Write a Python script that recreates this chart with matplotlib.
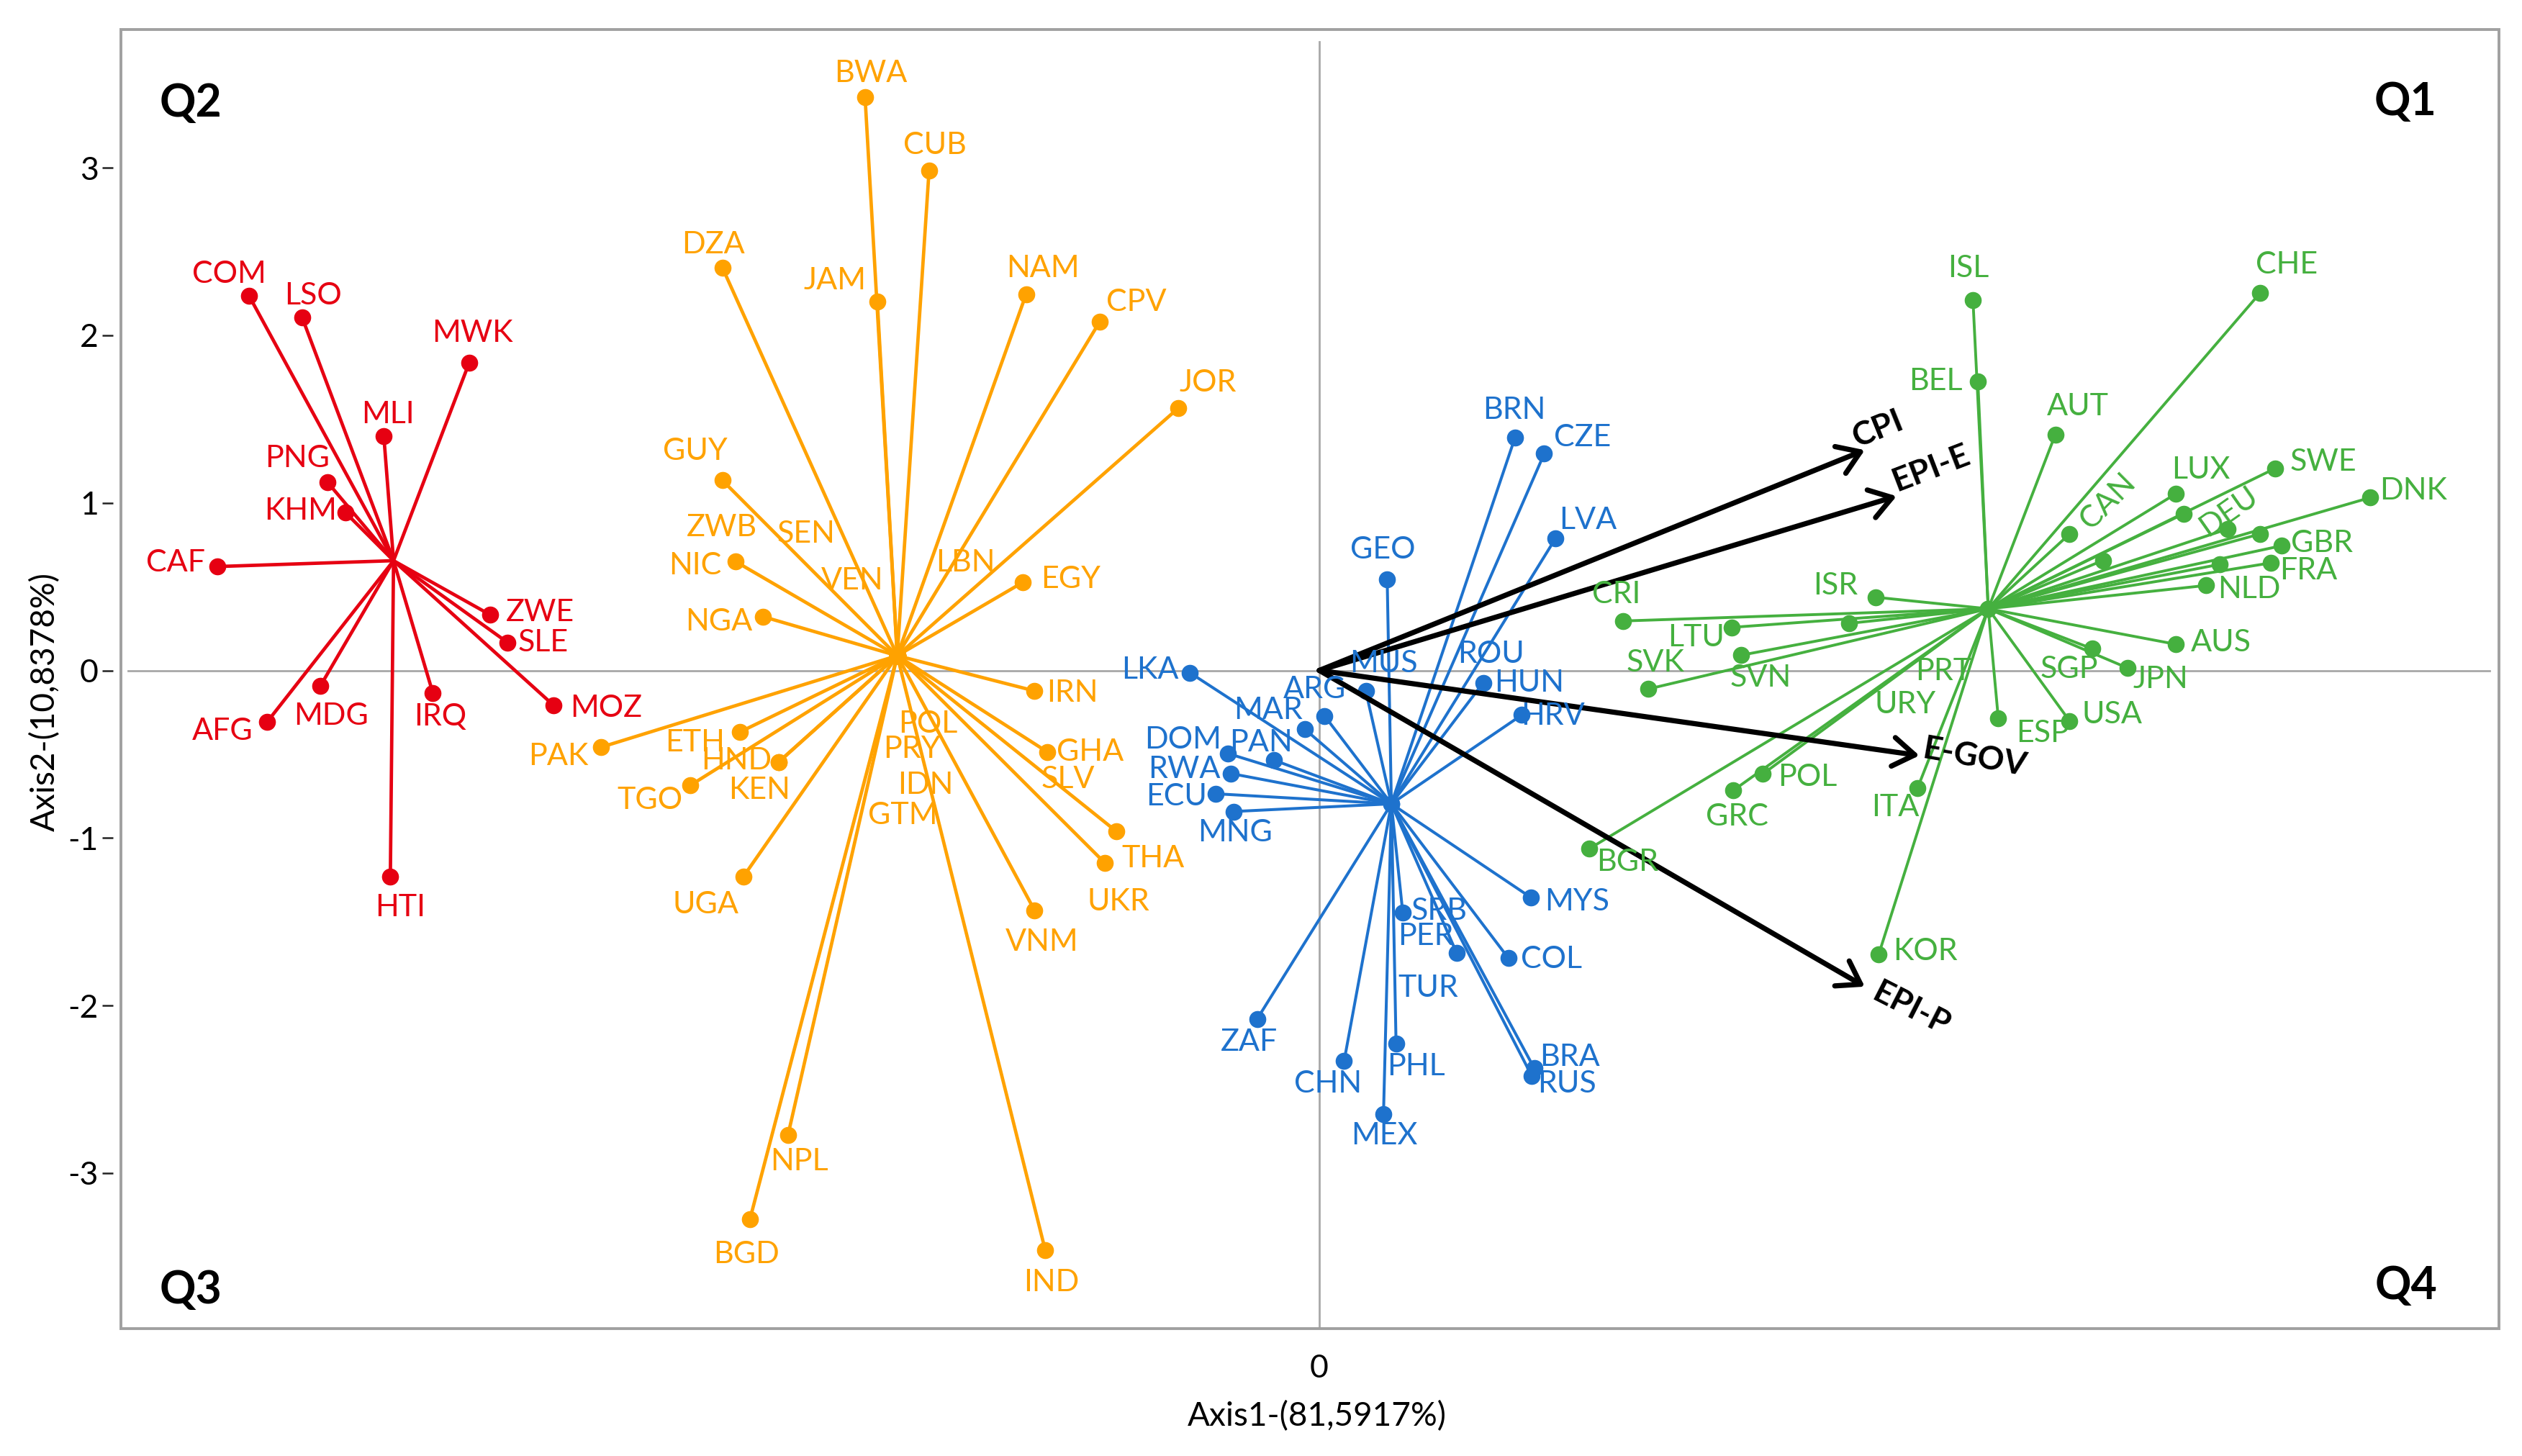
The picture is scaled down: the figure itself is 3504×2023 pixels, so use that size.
import matplotlib
matplotlib.use('Agg')
import matplotlib.pyplot as plt
from matplotlib.patches import Rectangle

plt.rcParams['font.family'] = ['Lato', 'DejaVu Sans']
plt.rcParams['axes.unicode_minus'] = False

# ---------------- data ----------------
red_center = (-5.525, 0.655)
red_names = ['COM', 'LSO', 'MWK', 'MLI', 'PNG', 'KHM', 'CAF', 'ZWE', 'SLE', 'MOZ', 'IRQ', 'MDG', 'AFG', 'HTI']
red_x = [-6.388, -6.071, -5.074, -5.583, -5.918, -5.813, -6.576, -4.950, -4.845, -4.570, -5.290, -5.962, -6.279, -5.544]
red_y = [2.237, 2.108, 1.835, 1.398, 1.122, 0.943, 0.620, 0.333, 0.167, -0.208, -0.136, -0.093, -0.307, -1.229]

orange_center = (-2.519, 0.088)
orange_names = ['BWA', 'CUB', 'DZA', 'JAM', 'NAM', 'CPV', 'JOR', 'GUY', 'ZWB', 'SEN', 'NIC', 'VEN', 'LBN',
                'NGA', 'EGY', 'IRN', 'PAK', 'ETH', 'HND', 'KEN', 'POL', 'PRY', 'IDN', 'GTM', 'SLV',
                'GHA', 'TGO', 'UGA', 'THA', 'UKR', 'VNM', 'NPL', 'BGD', 'IND']
orange_x = [-2.711, -2.329, -3.563, -2.638, -1.750, -1.311, -0.841, -3.563, -2.519, -2.519, -3.484, -2.519, -2.519,
            -3.320, -1.769, -1.700, -4.286, -3.459, -3.226, -3.226, -2.519, -2.519, -2.519, -2.519, -2.519,
            -1.624, -3.754, -3.436, -1.212, -1.280, -1.700, -3.171, -3.398, -1.636]
orange_y = [3.421, 2.985, 2.405, 2.203, 2.245, 2.080, 1.566, 1.135, 0.088, 0.088, 0.650, 0.088, 0.088,
            0.321, 0.526, -0.122, -0.458, -0.368, -0.546, -0.546, 0.088, 0.088, 0.088, 0.088, 0.088,
            -0.486, -0.686, -1.229, -0.960, -1.149, -1.431, -2.773, -3.275, -3.459]

blue_center = (0.430, -0.796)
blue_names = ['BRN', 'CZE', 'LVA', 'GEO', 'ROU', 'LKA', 'MUS', 'ARG', 'HUN', 'HRV', 'MAR', 'DOM', 'PAN',
              'RWA', 'ECU', 'MNG', 'SRB', 'MYS', 'PER', 'COL', 'TUR', 'ZAF', 'PHL', 'CHN', 'BRA', 'RUS', 'MEX']
blue_x = [1.168, 1.342, 1.409, 0.405, 0.430, -0.772, 0.277, 0.031, 0.978, 1.208, -0.085, -0.545, -0.271,
          -0.530, -0.618, -0.513, 0.498, 1.264, 0.819, 1.129, 0.430, -0.371, 0.458, 0.148, 1.283, 1.269, 0.383]
blue_y = [1.390, 1.293, 0.787, 0.545, -0.796, -0.014, -0.122, -0.271, -0.074, -0.266, -0.352, -0.496, -0.535,
          -0.615, -0.736, -0.842, -1.446, -1.356, -1.685, -1.718, -0.796, -2.080, -2.228, -2.331, -2.375, -2.422, -2.647]

green_center = (3.992, 0.368)
green_names = ['ISL', 'CHE', 'BEL', 'AUT', 'CAN', 'LUX', '', 'DEU', 'SWE', 'DNK', '', 'GBR', '', 'FRA',
               'NLD', '', 'ISR', 'CRI', 'LTU', '', 'SVN', 'SVK', 'PRT', 'URY', 'SGP', 'JPN', 'AUS',
               'ESP', 'USA', 'POL', 'GRC', 'ITA', 'KOR', 'BGR']
green_x = [3.901, 5.613, 3.930, 4.392, 4.477, 5.113, 5.157, 5.420, 5.705, 6.270, 5.613, 5.742, 5.373, 5.680,
           5.291, 4.677, 3.319, 1.811, 2.461, 3.161, 2.517, 1.962, 3.992, 3.992, 4.614, 4.825, 5.113,
           4.052, 4.477, 2.647, 2.469, 3.570, 3.338, 1.611]
green_y = [2.208, 2.251, 1.724, 1.407, 0.814, 1.055, 0.934, 0.844, 1.206, 1.031, 0.814, 0.744, 0.633, 0.642,
           0.507, 0.657, 0.437, 0.295, 0.257, 0.281, 0.091, -0.111, 0.368, 0.368, 0.129, 0.014, 0.156,
           -0.286, -0.301, -0.618, -0.717, -0.702, -1.696, -1.064]

arrow_names = ['CPI', 'EPI-E', 'E-GOV', 'EPI-P']
arrow_x = [3.255, 3.445, 3.581, 3.255]
arrow_y = [1.315, 1.040, -0.508, -1.887]

y_ticks = [-3, -2, -1, 0, 1, 2, 3]
x_ticks = [0]

# ---------------- label layout (offsets, reference units; +dy = down) ----------------
label_offsets = {
    'red': {'COM': (-12.3, -13.4), 'LSO': (6.9, -13.4), 'MWK': (2, -18.5), 'MLI': (2.6, -13.4),
            'PNG': (-18.9, -14.9), 'KHM': (-27.8, -0.9), 'CAF': (-25.8, -2.1), 'ZWE': (31.2, -1.2),
            'SLE': (21.9, 0), 'MOZ': (32.5, 2), 'IRQ': (4.4, 14.8), 'MDG': (6.6, 18.4),
            'AFG': (-27.6, 6), 'HTI': (6.3, 19.4)},
    'orange': {'BWA': (3.3, -14.8), 'CUB': (3.8, -15.4), 'DZA': (-5.6, -14.0), 'JAM': (-26.0, -12.8),
               'NAM': (10.2, -15.8), 'CPV': (22.8, -12), 'JOR': (18.1, -15.5), 'GUY': (-16.6, -17.9),
               'ZWB': (-108.6, -79.1), 'SEN': (-56.2, -75.3), 'NIC': (-24.8, 2.6), 'VEN': (-27.6, -46.4),
               'LBN': (42.2, -57.4), 'NGA': (-27.1, 3.3), 'EGY': (29.6, -1.8), 'IRN': (23.6, 1.4),
               'PAK': (-26.4, 5.7), 'ETH': (-27.5, 6.6), 'HND': (-26.1, -0.6), 'KEN': (-11.9, 17.3),
               'POL': (19.1, 42.4), 'PRY': (9.1, 58.0), 'IDN': (17.6, 80.2), 'GTM': (3.4, 98.6),
               'SLV': (105.6, 76.5), 'GHA': (26.5, 0), 'TGO': (-24.8, 9.1), 'UGA': (-23.6, 17.6),
               'THA': (22.7, 16.8), 'UKR': (8.4, 24.2), 'VNM': (4.6, 19.8), 'NPL': (7.1, 16.2),
               'BGD': (-2, 21.8), 'IND': (3.7, 19.9)},
    'blue': {'BRN': (-0.4, -16.7), 'CZE': (23.6, -9.8), 'LVA': (20, -11.1), 'GEO': (-2.5, -17.9),
             'ROU': (61.4, -92.7), 'LKA': (-24.8, -1.8), 'MUS': (11.3, -16.8), 'ARG': (-6.3, -16.4),
             'HUN': (28.4, 0), 'HRV': (19.3, 0.9), 'MAR': (-22.7, -11.9), 'DOM': (-27.9, -8.4),
             'PAN': (-7.9, -10.9), 'RWA': (-28.4, -2.4), 'ECU': (-24.3, 2.0), 'MNG': (1.2, 12.9),
             'SRB': (22.3, -0.8), 'MYS': (28.4, 2.6), 'PER': (-18.9, -10.2), 'COL': (26.4, 0.8),
             'TUR': (22.8, 114.2), 'ZAF': (-4.9, 14.4), 'PHL': (12.5, 14.1), 'CHN': (-10, 14),
             'BRA': (22, -6.8), 'RUS': (21.8, 4.6), 'MEX': (0.4, 13.3)},
    'green': {'ISL': (-2.7, -20), 'CHE': (16.4, -17.5), 'BEL': (-26.1, 0), 'AUT': (13.8, -17.2),
              'CAN': (23.8, -20.3), 'LUX': (15.4, -14.6), 'DEU': (0.8, -10.9), 'SWE': (29.5, -4.1),
              'DNK': (26.9, -4), 'GBR': (24.9, -1.6), 'FRA': (22.9, 5), 'NLD': (26.8, 2.5),
              'ISR': (-24.9, -7.2), 'CRI': (-3.9, -16.3), 'LTU': (-22.2, 6.3), 'SVN': (12.2, 14.1),
              'SVK': (4.6, -16.2), 'PRT': (-27.6, 39), 'URY': (-51.3, 59.3), 'SGP': (-14.2, 12.8),
              'JPN': (20.2, 7.1), 'AUS': (28, -1), 'ESP': (27.6, 9.4), 'USA': (26.5, -3.7),
              'POL': (27.6, 2.2), 'GRC': (2.7, 16.2), 'ITA': (-13.7, 12.2), 'KOR': (28.8, -1.8),
              'BGR': (23.7, 8.4)},
}
label_rot = {('green', 'CAN'): 45, ('green', 'DEU'): 35}
arrow_label_offsets = {'CPI': (8, -12.7, 22), 'EPI-E': (21.5, -17, 21),
                       'E-GOV': (34, 1.4, -10), 'EPI-P': (28.4, 14.2, -27)}
PT = 1.618  # points per reference unit

# ---------------- figure ----------------
W, H = 3505, 2023
fig = plt.figure(figsize=(W / 100, H / 100), dpi=100)
L, R, T, B = 168, 3472, 41, 1846
ax = fig.add_axes([L / W, 1 - B / H, (R - L) / W, (B - T) / H])
ax.set_xlim(-7.152, 7.040)
ax.set_ylim(-3.928, 3.825)

for s in ax.spines.values():
    s.set_visible(False)
ax.spines['left'].set_position(('outward', 8))
ax.add_patch(Rectangle((0, 0), 1, 1, transform=ax.transAxes, fill=False,
                       ec='#A0A0A0', lw=2.8, clip_on=False, zorder=10))

ax.axhline(0, xmin=0.003, xmax=0.996, color='#A8A8A8', lw=2.0, zorder=1)
ax.axvline(0, ymin=0, ymax=0.9906, color='#A8A8A8', lw=2.0, zorder=1)

groups = [
    ('red', '#E60012', red_center, red_names, red_x, red_y, 3.4),
    ('orange', '#FFA200', orange_center, orange_names, orange_x, orange_y, 3.4),
    ('blue', '#1E72CD', blue_center, blue_names, blue_x, blue_y, 2.9),
    ('green', '#45B03F', green_center, green_names, green_x, green_y, 2.8),
]

for key, col, (cx, cy), names, xs, ys, lw in groups:
    for n, x, y in zip(names, xs, ys):
        ax.plot([cx, x], [cy, y], color=col, lw=lw, zorder=2, solid_capstyle='round')
    ax.plot(xs, ys, 'o', color=col, ms=16, zorder=3, lw=0)
    for n, x, y in zip(names, xs, ys):
        if not n:
            continue
        dx, dy = label_offsets[key][n]
        ax.annotate(n, xy=(x, y), xytext=(dx * PT, -dy * PT), textcoords='offset points',
                    ha='center', va='center', color=col, fontsize=31,
                    rotation=label_rot.get((key, n), 0), rotation_mode='anchor', zorder=5)

for n, x, y in zip(arrow_names, arrow_x, arrow_y):
    ax.annotate('', xy=(x, y), xytext=(0, 0),
                arrowprops=dict(arrowstyle='->,head_length=0.6,head_width=0.4', lw=5.2,
                                color='black', mutation_scale=36, shrinkA=0, shrinkB=0),
                zorder=4)
    dx, dy, rot = arrow_label_offsets[n]
    ax.annotate(n, xy=(x, y), xytext=(dx * PT, -dy * PT), textcoords='offset points',
                ha='center', va='center', rotation=rot, rotation_mode='anchor',
                fontsize=33, fontweight='bold', color='black', zorder=6)

ax.set_yticks(y_ticks)
ax.set_yticklabels([str(v) for v in y_ticks])
ax.tick_params(axis='y', direction='out', length=10.8, width=1.8, color='#222222',
               pad=3.6, labelsize=32, labelcolor='black')
ax.set_xticks(x_ticks)
ax.set_xticklabels([str(v) for v in x_ticks])
ax.tick_params(axis='x', length=0, pad=25, labelsize=32, labelcolor='black')

fig.text(63 / W, 1 - 975 / H, 'Axis2-(10,8378%)', rotation=90, ha='center', va='center',
         fontsize=33, color='black')
fig.text(1830 / W, 1 - 1968 / H, 'Axis1-(81,5917%)', ha='center', va='center',
         fontsize=33, color='black')

for q, (qx, qy) in {'Q1': (3342, 142), 'Q2': (265, 144), 'Q3': (265, 1793), 'Q4': (3343, 1787)}.items():
    fig.text(qx / W, 1 - qy / H, q, ha='center', va='center', fontsize=45, fontweight='bold', color='black')

fig.savefig('out.png', dpi=100)
